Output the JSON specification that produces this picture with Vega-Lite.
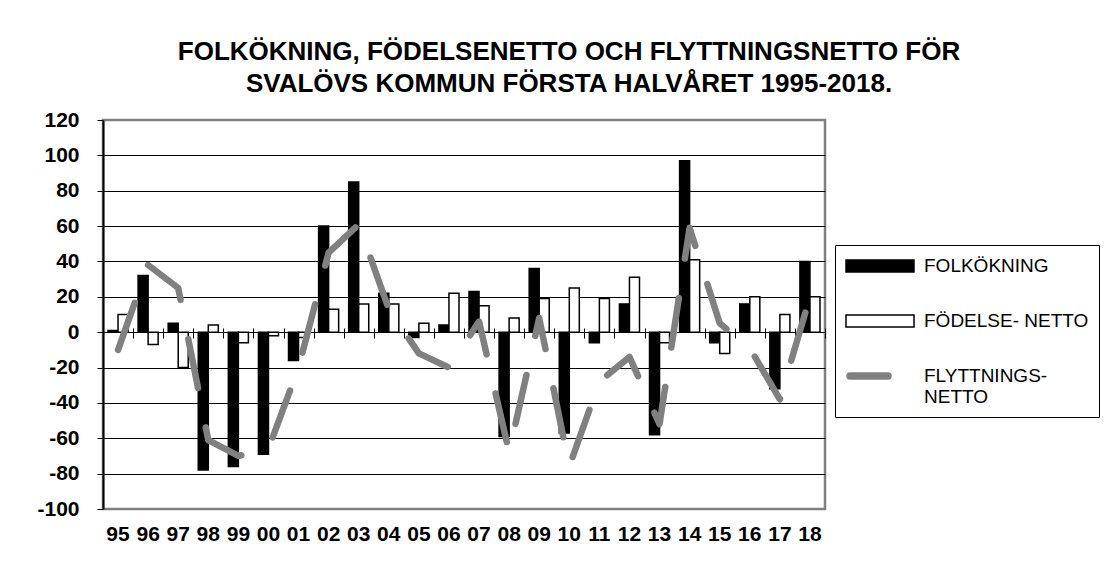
{
  "$schema": "https://vega.github.io/schema/vega-lite/v6.json",
  "autosize": "none",
  "width": 722,
  "height": 389,
  "padding": {"left": 103, "top": 120, "right": 279, "bottom": 73},
  "background": "white",
  "config": {
    "font": "Liberation Sans",
    "view": {"stroke": "#808080", "strokeWidth": 2.5},
    "legend": {
      "orient": "none", "legendX": 732, "legendY": 125, "direction": "vertical",
      "strokeColor": "black", "padding": 10, "fillColor": "white",
      "symbolSize": 400, "symbolStrokeWidth": 1.5, "symbolOpacity": 1,
      "labelOffset": 57, "rowPadding": 34,
      "labelFont": "Liberation Sans", "labelFontSize": 19, "labelColor": "black", "labelLimit": 400
    }
  },
  "title": {
    "text": ["FOLKÖKNING, FÖDELSENETTO OCH FLYTTNINGSNETTO FÖR", "SVALÖVS KOMMUN FÖRSTA HALVÅRET 1995-2018."],
    "font": "Liberation Sans",
    "fontSize": 26,
    "fontWeight": "bold",
    "color": "black",
    "lineHeight": 32,
    "anchor": "middle",
    "dx": 105,
    "offset": 12
  },
  "data": {
    "values": [
      {"year": "95", "serie": "FOLKÖKNING", "value": 1},
      {"year": "96", "serie": "FOLKÖKNING", "value": 32},
      {"year": "97", "serie": "FOLKÖKNING", "value": 5},
      {"year": "98", "serie": "FOLKÖKNING", "value": -78},
      {"year": "99", "serie": "FOLKÖKNING", "value": -76},
      {"year": "00", "serie": "FOLKÖKNING", "value": -69},
      {"year": "01", "serie": "FOLKÖKNING", "value": -16},
      {"year": "02", "serie": "FOLKÖKNING", "value": 60},
      {"year": "03", "serie": "FOLKÖKNING", "value": 85},
      {"year": "04", "serie": "FOLKÖKNING", "value": 22},
      {"year": "05", "serie": "FOLKÖKNING", "value": -3},
      {"year": "06", "serie": "FOLKÖKNING", "value": 4},
      {"year": "07", "serie": "FOLKÖKNING", "value": 23},
      {"year": "08", "serie": "FOLKÖKNING", "value": -59},
      {"year": "09", "serie": "FOLKÖKNING", "value": 36},
      {"year": "10", "serie": "FOLKÖKNING", "value": -57},
      {"year": "11", "serie": "FOLKÖKNING", "value": -6},
      {"year": "12", "serie": "FOLKÖKNING", "value": 16},
      {"year": "13", "serie": "FOLKÖKNING", "value": -58},
      {"year": "14", "serie": "FOLKÖKNING", "value": 97},
      {"year": "15", "serie": "FOLKÖKNING", "value": -6},
      {"year": "16", "serie": "FOLKÖKNING", "value": 16},
      {"year": "17", "serie": "FOLKÖKNING", "value": -32},
      {"year": "18", "serie": "FOLKÖKNING", "value": 40},
      {"year": "95", "serie": "FÖDELSE- NETTO", "value": 10},
      {"year": "96", "serie": "FÖDELSE- NETTO", "value": -7},
      {"year": "97", "serie": "FÖDELSE- NETTO", "value": -20},
      {"year": "98", "serie": "FÖDELSE- NETTO", "value": 4},
      {"year": "99", "serie": "FÖDELSE- NETTO", "value": -6},
      {"year": "00", "serie": "FÖDELSE- NETTO", "value": -2},
      {"year": "01", "serie": "FÖDELSE- NETTO", "value": -3},
      {"year": "02", "serie": "FÖDELSE- NETTO", "value": 13},
      {"year": "03", "serie": "FÖDELSE- NETTO", "value": 16},
      {"year": "04", "serie": "FÖDELSE- NETTO", "value": 16},
      {"year": "05", "serie": "FÖDELSE- NETTO", "value": 5},
      {"year": "06", "serie": "FÖDELSE- NETTO", "value": 22},
      {"year": "07", "serie": "FÖDELSE- NETTO", "value": 15},
      {"year": "08", "serie": "FÖDELSE- NETTO", "value": 8},
      {"year": "09", "serie": "FÖDELSE- NETTO", "value": 19},
      {"year": "10", "serie": "FÖDELSE- NETTO", "value": 25},
      {"year": "11", "serie": "FÖDELSE- NETTO", "value": 19},
      {"year": "12", "serie": "FÖDELSE- NETTO", "value": 31},
      {"year": "13", "serie": "FÖDELSE- NETTO", "value": -6},
      {"year": "14", "serie": "FÖDELSE- NETTO", "value": 41},
      {"year": "15", "serie": "FÖDELSE- NETTO", "value": -12},
      {"year": "16", "serie": "FÖDELSE- NETTO", "value": 20},
      {"year": "17", "serie": "FÖDELSE- NETTO", "value": 10},
      {"year": "18", "serie": "FÖDELSE- NETTO", "value": 20},
      {"year": "95", "serie": "FLYTTNINGS-NETTO", "value": -10},
      {"year": "96", "serie": "FLYTTNINGS-NETTO", "value": 38},
      {"year": "97", "serie": "FLYTTNINGS-NETTO", "value": 25},
      {"year": "98", "serie": "FLYTTNINGS-NETTO", "value": -61},
      {"year": "99", "serie": "FLYTTNINGS-NETTO", "value": -70},
      {"year": "00", "serie": "FLYTTNINGS-NETTO", "value": -66},
      {"year": "01", "serie": "FLYTTNINGS-NETTO", "value": -20},
      {"year": "02", "serie": "FLYTTNINGS-NETTO", "value": 45},
      {"year": "03", "serie": "FLYTTNINGS-NETTO", "value": 61},
      {"year": "04", "serie": "FLYTTNINGS-NETTO", "value": 13},
      {"year": "05", "serie": "FLYTTNINGS-NETTO", "value": -12},
      {"year": "06", "serie": "FLYTTNINGS-NETTO", "value": -20},
      {"year": "07", "serie": "FLYTTNINGS-NETTO", "value": 6},
      {"year": "08", "serie": "FLYTTNINGS-NETTO", "value": -68},
      {"year": "09", "serie": "FLYTTNINGS-NETTO", "value": 8},
      {"year": "10", "serie": "FLYTTNINGS-NETTO", "value": -76},
      {"year": "11", "serie": "FLYTTNINGS-NETTO", "value": -28},
      {"year": "12", "serie": "FLYTTNINGS-NETTO", "value": -14},
      {"year": "13", "serie": "FLYTTNINGS-NETTO", "value": -52},
      {"year": "14", "serie": "FLYTTNINGS-NETTO", "value": 59},
      {"year": "15", "serie": "FLYTTNINGS-NETTO", "value": 5},
      {"year": "16", "serie": "FLYTTNINGS-NETTO", "value": -9},
      {"year": "17", "serie": "FLYTTNINGS-NETTO", "value": -38},
      {"year": "18", "serie": "FLYTTNINGS-NETTO", "value": 20}
    ]
  },
  "encoding": {
    "y": {
      "field": "value", "type": "quantitative",
      "scale": {"domain": [-100, 120], "nice": false},
      "axis": {
        "title": null, "values": [-100, -80, -60, -40, -20, 0, 20, 40, 60, 80, 100, 120],
        "labelExpr": "toString(datum.value)",
        "labelFont": "Liberation Sans", "labelFontSize": 21, "labelFontWeight": "bold",
        "labelColor": "black", "labelPadding": 18, "tickSize": 6, "tickColor": "black",
        "domainColor": "black", "domainWidth": 2,
        "grid": true, "gridColor": "black", "gridWidth": 1,
        "gridOpacity": {"condition": {"test": "datum.value === 120 || datum.value === -100", "value": 0}, "value": 1}
      }
    }
  },
  "layer": [
    {
      "transform": [{"filter": "datum.serie !== 'FLYTTNINGS-NETTO'"}],
      "mark": {"type": "bar", "stroke": "black", "strokeWidth": 1.5},
      "encoding": {
        "x": {
          "field": "year", "type": "nominal", "sort": null,
          "scale": {"paddingInner": 0, "paddingOuter": 0},
          "axis": {
            "orient": "bottom", "title": null, "labelAngle": 0,
            "labelFont": "Liberation Sans", "labelFontSize": 21, "labelFontWeight": "bold",
            "labelColor": "black", "labelPadding": 14, "ticks": false, "domain": false, "grid": false
          }
        },
        "xOffset": {
          "field": "serie", "type": "nominal",
          "sort": ["FOLKÖKNING", "FÖDELSE- NETTO"],
          "scale": {"paddingOuter": 0.5, "paddingInner": 0}
        },
        "fill": {
          "field": "serie", "type": "nominal",
          "scale": {"domain": ["FOLKÖKNING", "FÖDELSE- NETTO", "FLYTTNINGS-NETTO"], "range": ["black", "white", "#808080"]},
          "legend": {"title": null, "labelExpr": "datum.label === 'FLYTTNINGS-NETTO' ? ['FLYTTNINGS-', 'NETTO'] : datum.label"}
        }
      }
    },
    {
      "transform": [{"filter": "datum.serie === 'FLYTTNINGS-NETTO'"}],
      "mark": {"type": "line", "color": "#808080", "strokeWidth": 6.5, "strokeCap": "round", "strokeJoin": "round", "strokeDash": [50, 40]},
      "encoding": {
        "x": {
          "field": "year", "type": "nominal", "sort": null,
          "axis": {
            "orient": "top", "offset": -218, "title": null, "labels": false, "domain": false,
            "ticks": true, "tickBand": "extent", "tickSize": 10, "tickColor": "black", "grid": false
          }
        }
      }
    },
    {
      "mark": {"type": "point", "filled": true, "opacity": 0},
      "encoding": {
        "x": {"field": "year", "type": "nominal", "sort": null, "axis": null},
        "fill": {
          "field": "serie", "type": "nominal",
          "legend": {"title": null, "labelExpr": "datum.label === 'FLYTTNINGS-NETTO' ? ['FLYTTNINGS-', 'NETTO'] : datum.label"}
        },
        "shape": {
          "field": "serie", "type": "nominal",
          "scale": {
            "domain": ["FOLKÖKNING", "FÖDELSE- NETTO", "FLYTTNINGS-NETTO"],
            "range": ["M-1,-0.6H5.8V0.6H-1Z", "M-1,-0.6H5.8V0.6H-1Z", "M-0.6,-0.3H3.2A0.3,0.3,0,0,1,3.2,0.3H-0.6A0.3,0.3,0,0,1,-0.6,-0.3Z"]
          },
          "legend": {"title": null, "labelExpr": "datum.label === 'FLYTTNINGS-NETTO' ? ['FLYTTNINGS-', 'NETTO'] : datum.label"}
        },
        "stroke": {
          "field": "serie", "type": "nominal",
          "scale": {
            "domain": ["FOLKÖKNING", "FÖDELSE- NETTO", "FLYTTNINGS-NETTO"],
            "range": ["black", "black", "#808080"]
          },
          "legend": {"title": null, "labelExpr": "datum.label === 'FLYTTNINGS-NETTO' ? ['FLYTTNINGS-', 'NETTO'] : datum.label"}
        }
      }
    }
  ]
}
